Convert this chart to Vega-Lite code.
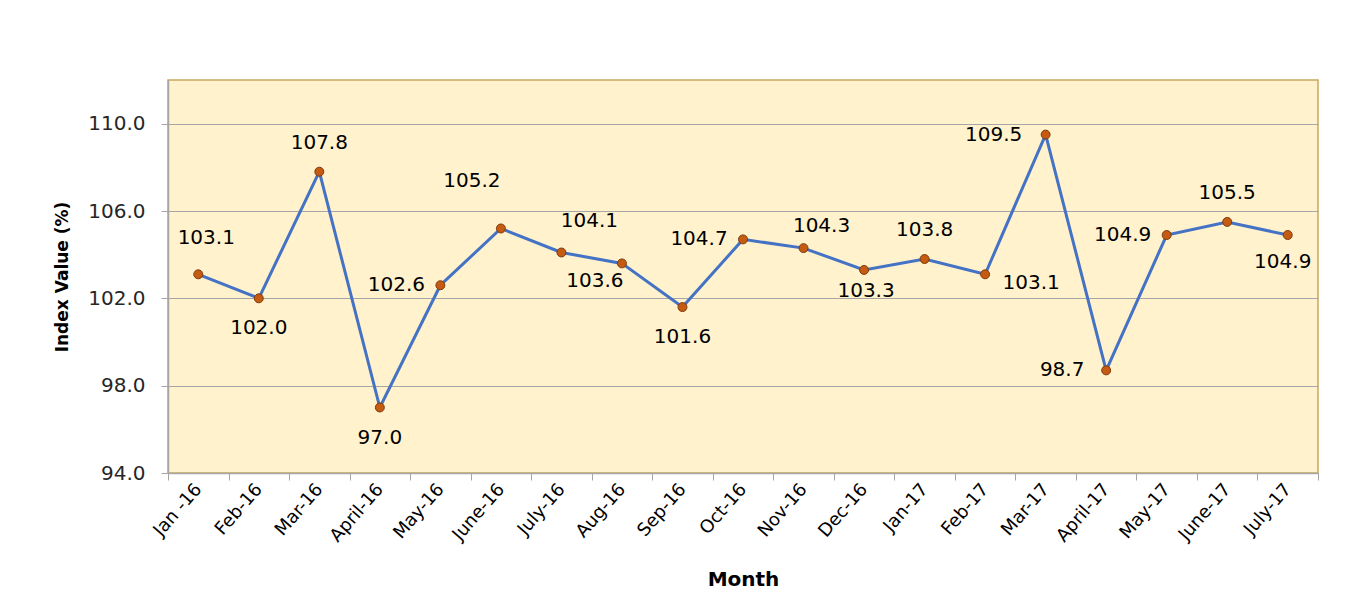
{
  "$schema": "https://vega.github.io/schema/vega-lite/v6.json",
  "width": 1150,
  "height": 393,
  "autosize": {"type": "none"},
  "padding": {"left": 168, "top": 80, "right": 33, "bottom": 143},
  "background": "white",
  "config": {
    "view": {"fill": "#FFF2CC", "stroke": "#C9A85C", "strokeWidth": 1.5},
    "font": "DejaVu Sans",
    "text": {"font": "DejaVu Sans", "fontSize": 20, "color": "#000000"}
  },
  "data": {
    "values": [
      {"month": "Jan -16", "value": 103.1},
      {"month": "Feb-16", "value": 102.0},
      {"month": "Mar-16", "value": 107.8},
      {"month": "April-16", "value": 97.0},
      {"month": "May-16", "value": 102.6},
      {"month": "June-16", "value": 105.2},
      {"month": "July-16", "value": 104.1},
      {"month": "Aug-16", "value": 103.6},
      {"month": "Sep-16", "value": 101.6},
      {"month": "Oct-16", "value": 104.7},
      {"month": "Nov-16", "value": 104.3},
      {"month": "Dec-16", "value": 103.3},
      {"month": "Jan-17", "value": 103.8},
      {"month": "Feb-17", "value": 103.1},
      {"month": "Mar-17", "value": 109.5},
      {"month": "April-17", "value": 98.7},
      {"month": "May-17", "value": 104.9},
      {"month": "June-17", "value": 105.5},
      {"month": "July-17", "value": 104.9}
    ]
  },
  "encoding": {
    "x": {
      "field": "month",
      "type": "nominal",
      "sort": null,
      "scale": {"paddingInner": 0, "paddingOuter": 0},
      "axis": {
        "title": "Month",
        "titleFont": "DejaVu Sans",
        "titleFontSize": 20,
        "titleFontWeight": "bold",
        "titleColor": "#000000",
        "titlePadding": 24,
        "labelAngle": -49,
        "labelFont": "DejaVu Sans",
        "labelFontSize": 18,
        "labelColor": "#000000",
        "labelPadding": 6,
        "tickBand": "extent",
        "tickSize": 7,
        "tickColor": "#A6A6A6",
        "domainColor": "#A6A6A6",
        "domainWidth": 1.5,
        "grid": false
      }
    },
    "y": {
      "field": "value",
      "type": "quantitative",
      "scale": {"domain": [94, 112], "nice": false, "zero": false},
      "axis": {
        "title": "Index Value (%)",
        "titleFont": "DejaVu Sans",
        "titleFontSize": 17,
        "titleFontWeight": "bold",
        "titleColor": "#000000",
        "titlePadding": 16,
        "values": [94, 98, 102, 106, 110],
        "format": ".1f",
        "labelFont": "DejaVu Sans",
        "labelFontSize": 20,
        "labelColor": "#262626",
        "labelPadding": 16,
        "tickSize": 7,
        "tickColor": "#A6A6A6",
        "domainColor": "#A6A6A6",
        "domainWidth": 1.5,
        "gridColor": "#A6A6A6",
        "gridWidth": 1
      }
    }
  },
  "layer": [
    {"mark": {"type": "line", "color": "#4472C4", "strokeWidth": 3}},
    {"mark": {"type": "point", "filled": true, "fill": "#C55A11", "stroke": "#7F3A0C", "strokeWidth": 1, "size": 80, "opacity": 1}},
    {
      "transform": [{"filter": {"field": "month", "oneOf": ["Mar-16", "Jan-17", "June-17"]}}],
      "mark": {"type": "text", "dy": -29},
      "encoding": {"text": {"field": "value", "type": "quantitative", "format": ".1f"}}
    },
    {
      "transform": [{"filter": {"field": "month", "oneOf": ["Jan -16"]}}],
      "mark": {"type": "text", "dx": 8, "dy": -36},
      "encoding": {"text": {"field": "value", "type": "quantitative", "format": ".1f"}}
    },
    {
      "transform": [{"filter": {"field": "month", "oneOf": ["Feb-16", "April-16", "Sep-16"]}}],
      "mark": {"type": "text", "dy": 30},
      "encoding": {"text": {"field": "value", "type": "quantitative", "format": ".1f"}}
    },
    {
      "transform": [{"filter": {"field": "month", "oneOf": ["July-17"]}}],
      "mark": {"type": "text", "dx": -5, "dy": 27},
      "encoding": {"text": {"field": "value", "type": "quantitative", "format": ".1f"}}
    },
    {
      "transform": [{"filter": {"field": "month", "oneOf": ["Dec-16"]}}],
      "mark": {"type": "text", "dx": 2, "dy": 21},
      "encoding": {"text": {"field": "value", "type": "quantitative", "format": ".1f"}}
    },
    {
      "transform": [{"filter": {"field": "month", "oneOf": ["May-16", "Oct-16", "April-17", "May-17"]}}],
      "mark": {"type": "text", "dx": -44},
      "encoding": {"text": {"field": "value", "type": "quantitative", "format": ".1f"}}
    },
    {
      "transform": [{"filter": {"field": "month", "oneOf": ["Mar-17"]}}],
      "mark": {"type": "text", "dx": -52},
      "encoding": {"text": {"field": "value", "type": "quantitative", "format": ".1f"}}
    },
    {
      "transform": [{"filter": {"field": "month", "oneOf": ["Feb-17"]}}],
      "mark": {"type": "text", "dx": 46, "dy": 9},
      "encoding": {"text": {"field": "value", "type": "quantitative", "format": ".1f"}}
    },
    {
      "transform": [{"filter": {"field": "month", "oneOf": ["June-16"]}}],
      "mark": {"type": "text", "dx": -29, "dy": -47},
      "encoding": {"text": {"field": "value", "type": "quantitative", "format": ".1f"}}
    },
    {
      "transform": [{"filter": {"field": "month", "oneOf": ["July-16"]}}],
      "mark": {"type": "text", "dx": 28, "dy": -31},
      "encoding": {"text": {"field": "value", "type": "quantitative", "format": ".1f"}}
    },
    {
      "transform": [{"filter": {"field": "month", "oneOf": ["Aug-16"]}}],
      "mark": {"type": "text", "dx": -27, "dy": 18},
      "encoding": {"text": {"field": "value", "type": "quantitative", "format": ".1f"}}
    },
    {
      "transform": [{"filter": {"field": "month", "oneOf": ["Nov-16"]}}],
      "mark": {"type": "text", "dx": 18, "dy": -22},
      "encoding": {"text": {"field": "value", "type": "quantitative", "format": ".1f"}}
    }
  ]
}
